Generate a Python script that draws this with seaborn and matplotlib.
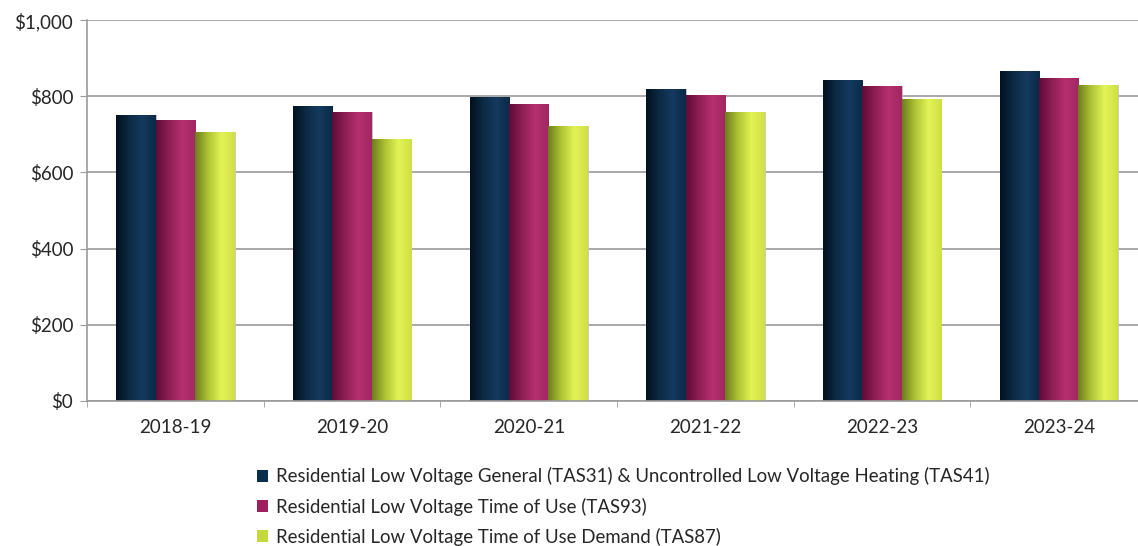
import numpy as np
import pandas as pd
import seaborn as sns
import matplotlib.pyplot as plt
from matplotlib.colors import LinearSegmentedColormap
from matplotlib.patches import Patch
from matplotlib.ticker import FuncFormatter

years = ["2018-19", "2019-20", "2020-21", "2021-22", "2022-23", "2023-24"]
tas31_41 = [751, 774, 797, 820, 843, 867]
tas93 = [738, 759, 781, 804, 827, 849]
tas87 = [706, 689, 723, 758, 793, 830]
series = [
    "Residential Low Voltage General (TAS31) & Uncontrolled Low Voltage Heating (TAS41)",
    "Residential Low Voltage Time of Use (TAS93)",
    "Residential Low Voltage Time of Use Demand (TAS87)",
]

df = pd.DataFrame({"year": years, series[0]: tas31_41, series[1]: tas93, series[2]: tas87})
df = df.melt(id_vars="year", var_name="tariff", value_name="cost")

base_colors = ["#0b2d4c", "#a0205e", "#c5d93a"]
# left -> highlight -> right shading for the cylinder look
shades = [
    ["#00111f", "#0d2a45", "#143a5e", "#0a2a48"],
    ["#5e0c38", "#8e1f55", "#b7306f", "#a02762"],
    ["#6f7d1c", "#b0c436", "#e2f455", "#cfe046"],
]

sns.set_style("white")
plt.rcParams["font.family"] = ["Lato", "DejaVu Sans"]

fig = plt.figure(figsize=(11.38, 5.46), dpi=100)
# axes runs a bit past the right edge of the figure, as in the original
ax = fig.add_axes([0.0765, 0.266, 0.9315, 0.697])

sns.barplot(data=df, x="year", y="cost", hue="tariff", palette=base_colors,
            width=0.67, gap=0, ax=ax, legend=False, saturation=1)

# gradient fill on each bar
for i, container in enumerate(ax.containers):
    cmap = LinearSegmentedColormap.from_list("g%d" % i, shades[i])
    grad = np.linspace(0, 1, 64).reshape(1, -1)
    for bar in container:
        x0, y0 = bar.get_x(), bar.get_y()
        w, h = bar.get_width(), bar.get_height()
        bar.set_edgecolor("#c8c8c8")
        bar.set_linewidth(0.6)
        im = ax.imshow(grad, cmap=cmap, extent=[x0, x0 + w, y0, y0 + h],
                       aspect="auto", zorder=bar.get_zorder() + 0.1)
        im.set_clip_path(bar)

ax.set_xlim(-0.5, len(years) - 0.5)
ax.set_ylim(0, 1000)
ax.set_yticks(range(0, 1001, 200))
ax.yaxis.set_major_formatter(FuncFormatter(lambda v, p: "${:,.0f}".format(v)))
ax.grid(axis="y", color="#9a9a9a", linewidth=1.2)
ax.set_axisbelow(True)
ax.set_xlabel("")
ax.set_ylabel("")

for s in ["top", "right"]:
    ax.spines[s].set_visible(False)
for s in ["left", "bottom"]:
    ax.spines[s].set_color("#9a9a9a")
    ax.spines[s].set_linewidth(1.2)

ax.tick_params(axis="y", length=5, color="#9a9a9a", labelsize=13.5, pad=5, left=True)
ax.tick_params(axis="x", length=0, labelsize=13.5, pad=13)
# small ticks between categories on the x axis
ax.set_xticks(np.arange(-0.5, len(years), 1), minor=True)
ax.tick_params(axis="x", which="minor", length=4, color="#9a9a9a", bottom=True)

handles = [Patch(facecolor=c, edgecolor="none") for c in base_colors]
fig.legend(handles, series, loc="upper left", bbox_to_anchor=(0.2195, 0.158),
           frameon=False, fontsize=13.4, handlelength=0.6, handleheight=0.6,
           handletextpad=0.42, labelspacing=0.66, borderaxespad=0)

fig.savefig("out.png", dpi=100)
